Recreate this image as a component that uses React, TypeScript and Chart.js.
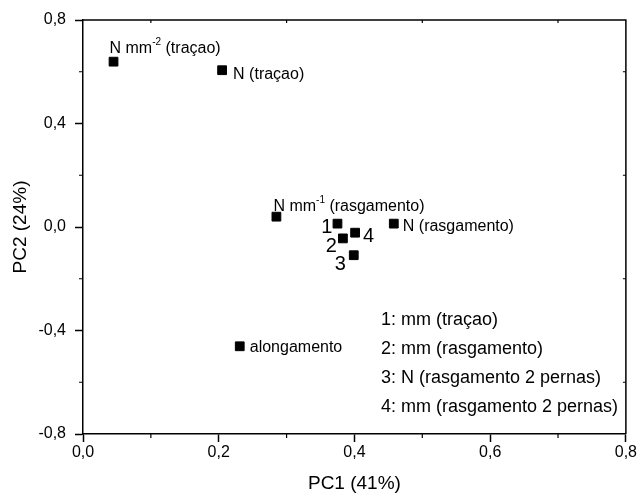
import React, { useEffect, useRef } from 'react';
import { Chart, registerables } from 'chart.js';

Chart.register(...registerables);

// ---- data ----
const pointNames = ['N mm^-2 (traçao)', 'N (traçao)', 'N mm^-1 (rasgamento)', '1', '2', '4', '3', 'N (rasgamento)', 'alongamento'];
const pc1Values = [0.045, 0.205, 0.285, 0.375, 0.383, 0.401, 0.399, 0.458, 0.231];
const pc2Values = [0.639, 0.606, 0.04, 0.013, -0.044, -0.022, -0.109, 0.013, -0.461];
const keyLines = ['1: mm (traçao)', '2: mm (rasgamento)', '3: N (rasgamento 2 pernas)', '4: mm (rasgamento 2 pernas)'];
const xTicks = [0, 0.2, 0.4, 0.6, 0.8];
const yTicks = [-0.8, -0.4, 0, 0.4, 0.8];
const xAxisTitle = 'PC1 (41%)';
const yAxisTitle = 'PC2 (24%)';

// ---- label styling (pixel offsets from each point) ----
const labelStyles = [
  { dx: -4, dy: -13, align: 'left', size: 16 },
  { dx: 11, dy: 4, align: 'left', size: 16 },
  { dx: -3, dy: -10, align: 'left', size: 16 },
  { dx: -5, dy: 4, align: 'right', size: 20 },
  { dx: -6, dy: 8, align: 'right', size: 20 },
  { dx: 8, dy: 4, align: 'left', size: 20 },
  { dx: -8, dy: 9, align: 'right', size: 20 },
  { dx: 9, dy: 3, align: 'left', size: 16 },
  { dx: 10, dy: 1, align: 'left', size: 16 },
];

const FONT = '"Liberation Sans", Arial, Helvetica, sans-serif';
const fmt = (v: number) => (Math.abs(v) < 1e-9 ? 0 : v).toFixed(1).replace('.', ',');

function parseParts(s: string) {
  // "N mm^-2 (traçao)" -> [normal "N mm", sup "-2", normal " (traçao)"]
  const m = s.match(/^(.*?)\^(-?\d+)(.*)$/);
  if (!m) return [{ t: s, sup: false }];
  return [
    { t: m[1], sup: false },
    { t: m[2], sup: true },
    { t: m[3], sup: false },
  ];
}

const framePlugin = {
  id: 'frameAndLabels',
  afterDatasetsDraw(chart: any) {
    const { ctx, chartArea } = chart;
    const xs = chart.scales.x;
    const ys = chart.scales.y;
    ctx.save();
    // frame top and right
    ctx.strokeStyle = '#000';
    ctx.lineWidth = 1.5;
    ctx.beginPath();
    ctx.moveTo(chartArea.left, chartArea.top);
    ctx.lineTo(chartArea.right, chartArea.top);
    ctx.lineTo(chartArea.right, chartArea.bottom);
    ctx.stroke();
    // minor ticks
    ctx.lineWidth = 1.2;
    ctx.beginPath();
    for (let i = 0; i < xTicks.length - 1; i++) {
      const px = xs.getPixelForValue((xTicks[i] + xTicks[i + 1]) / 2);
      ctx.moveTo(px, chartArea.bottom);
      ctx.lineTo(px, chartArea.bottom + 4);
      ctx.moveTo(px, chartArea.top);
      ctx.lineTo(px, chartArea.top + 3);
    }
    for (let i = 0; i < yTicks.length - 1; i++) {
      const py = ys.getPixelForValue((yTicks[i] + yTicks[i + 1]) / 2);
      ctx.moveTo(chartArea.left, py);
      ctx.lineTo(chartArea.left - 4, py);
      ctx.moveTo(chartArea.right, py);
      ctx.lineTo(chartArea.right - 3, py);
    }
    ctx.stroke();

    // point labels
    ctx.fillStyle = '#000';
    ctx.textBaseline = 'middle';
    const meta = chart.getDatasetMeta(0);
    meta.data.forEach((el: any, i: number) => {
      const st = labelStyles[i];
      const parts = parseParts(pointNames[i]);
      const widths = parts.map((p) => {
        ctx.font = `${p.sup ? Math.round(st.size * 0.62) : st.size}px ${FONT}`;
        return ctx.measureText(p.t).width;
      });
      const total = widths.reduce((a, b) => a + b, 0);
      let x = st.align === 'right' ? el.x + st.dx - total : el.x + st.dx;
      const y = el.y + st.dy;
      ctx.textAlign = 'left';
      parts.forEach((p, k) => {
        ctx.font = `${p.sup ? Math.round(st.size * 0.62) : st.size}px ${FONT}`;
        ctx.fillText(p.t, x, p.sup ? y - st.size * 0.38 : y);
        x += widths[k];
      });
    });

    // key text block
    ctx.font = `18px ${FONT}`;
    ctx.textAlign = 'left';
    keyLines.forEach((line, i) => {
      ctx.fillText(line, chartArea.left + 298, chartArea.bottom - 114 + i * 29);
    });
    ctx.restore();
  },
};

export default function App() {
  const ref = useRef<HTMLCanvasElement | null>(null);
  useEffect(() => {
    if (!ref.current) return;
    const chart = new Chart(ref.current, {
      type: 'scatter',
      data: {
        datasets: [
          {
            data: pc1Values.map((x, i) => ({ x, y: pc2Values[i] })),
            pointStyle: 'rect',
            pointRadius: 6.2,
            pointHoverRadius: 6.2,
            backgroundColor: '#000',
            borderColor: '#000',
            borderWidth: 1,
          },
        ],
      },
      options: {
        animation: false,
        responsive: false,
        devicePixelRatio: 1,
        layout: { padding: { top: 20, right: 11, left: 0, bottom: 0 } },
        plugins: { legend: { display: false }, tooltip: { enabled: false } },
        scales: {
          x: {
            type: 'linear',
            min: 0,
            max: 0.8,
            afterBuildTicks: (s: any) => {
              s.ticks = xTicks.map((v) => ({ value: v }));
            },
            afterFit: (s: any) => {
              s.height = 65;
            },
            ticks: {
              callback: (v: any) => fmt(Number(v)),
              color: '#000',
              font: { family: FONT, size: 16 },
              padding: 1,
              maxRotation: 0,
            },
            grid: {
              drawOnChartArea: false,
              drawTicks: true,
              tickLength: 8,
              tickColor: '#000',
              tickWidth: 1.5,
            },
            border: { display: true, color: '#000', width: 1.5 },
            title: {
              display: true,
              text: xAxisTitle,
              color: '#000',
              font: { family: FONT, size: 19 },
              padding: { top: 0, bottom: 4 },
            },
          },
          y: {
            type: 'linear',
            min: -0.8,
            max: 0.8,
            afterBuildTicks: (s: any) => {
              s.ticks = yTicks.map((v) => ({ value: v }));
            },
            afterFit: (s: any) => {
              s.width = 83;
            },
            ticks: {
              callback: (v: any) => fmt(Number(v)),
              color: '#000',
              font: { family: FONT, size: 16 },
              padding: 9,
            },
            grid: {
              drawOnChartArea: false,
              drawTicks: true,
              tickLength: 8,
              tickColor: '#000',
              tickWidth: 1.5,
            },
            border: { display: true, color: '#000', width: 1.5 },
            title: {
              display: true,
              text: yAxisTitle,
              color: '#000',
              font: { family: FONT, size: 19 },
              padding: { top: 9, bottom: 0 },
            },
          },
        },
      },
      plugins: [framePlugin],
    } as any);
    return () => chart.destroy();
  }, []);
  return (
    <div style={{ position: 'absolute', left: 0, top: 0, width: 638, height: 499, background: '#fff' }}>
      <canvas ref={ref} width={638} height={499} />
    </div>
  );
}
